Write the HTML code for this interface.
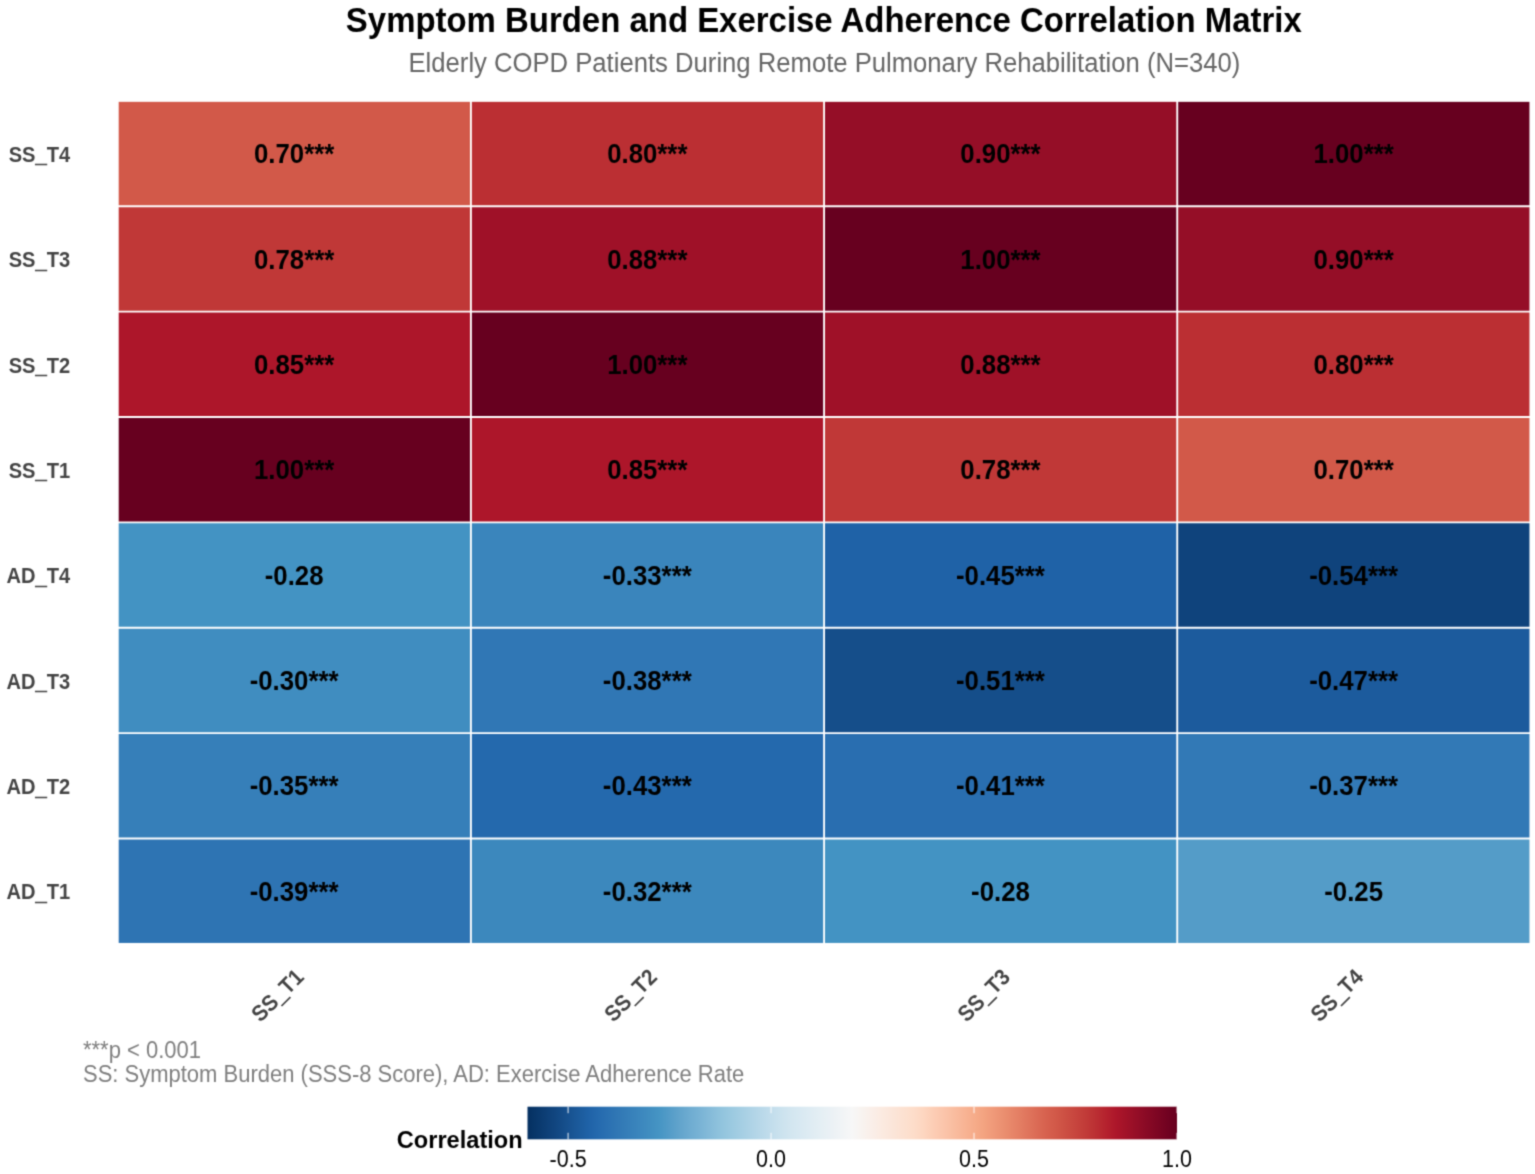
<!DOCTYPE html>
<html lang="en"><head><meta charset="utf-8"><title>Symptom Burden and Exercise Adherence Correlation Matrix</title>
<style>
html,body{margin:0;padding:0;background:#fff;}
body{width:1535px;height:1174px;overflow:hidden;}
svg{display:block;font-family:"Liberation Sans",Arial,Helvetica,sans-serif;}
.b{font-weight:700;}
</style></head><body>
<svg width="1535" height="1174" viewBox="0 0 1535 1174">
<rect x="-10" y="-10" width="1555" height="1194" fill="#ffffff"/>
<defs><linearGradient id="g" x1="0" x2="1" y1="0" y2="0"><stop offset="0.0000" stop-color="#053061"/><stop offset="0.0156" stop-color="#09386c"/><stop offset="0.0312" stop-color="#0e4078"/><stop offset="0.0469" stop-color="#124883"/><stop offset="0.0625" stop-color="#17518f"/><stop offset="0.0781" stop-color="#1b5a9b"/><stop offset="0.0938" stop-color="#1f62a7"/><stop offset="0.1094" stop-color="#256aae"/><stop offset="0.1250" stop-color="#2b71b2"/><stop offset="0.1406" stop-color="#3178b5"/><stop offset="0.1562" stop-color="#367fb9"/><stop offset="0.1719" stop-color="#3b86bd"/><stop offset="0.1875" stop-color="#408dc0"/><stop offset="0.2031" stop-color="#4695c4"/><stop offset="0.2188" stop-color="#549cc8"/><stop offset="0.2344" stop-color="#62a4cc"/><stop offset="0.2500" stop-color="#6eacd1"/><stop offset="0.2656" stop-color="#79b3d5"/><stop offset="0.2812" stop-color="#85bbd9"/><stop offset="0.2969" stop-color="#90c3dd"/><stop offset="0.3125" stop-color="#9ac9e0"/><stop offset="0.3281" stop-color="#a4cee3"/><stop offset="0.3438" stop-color="#aed3e6"/><stop offset="0.3594" stop-color="#b8d8e9"/><stop offset="0.3750" stop-color="#c2ddec"/><stop offset="0.3906" stop-color="#cbe2ee"/><stop offset="0.4062" stop-color="#d3e6f0"/><stop offset="0.4219" stop-color="#d9e9f2"/><stop offset="0.4375" stop-color="#dfecf3"/><stop offset="0.4531" stop-color="#e5eff4"/><stop offset="0.4688" stop-color="#ebf1f5"/><stop offset="0.4844" stop-color="#f1f4f6"/><stop offset="0.5000" stop-color="#f7f7f7"/><stop offset="0.5156" stop-color="#f8f3ef"/><stop offset="0.5312" stop-color="#faeee8"/><stop offset="0.5469" stop-color="#fbeae0"/><stop offset="0.5625" stop-color="#fbe5d9"/><stop offset="0.5781" stop-color="#fce1d1"/><stop offset="0.5938" stop-color="#fdddca"/><stop offset="0.6094" stop-color="#fdd6c0"/><stop offset="0.6250" stop-color="#fccdb5"/><stop offset="0.6406" stop-color="#fbc5ab"/><stop offset="0.6562" stop-color="#f9bda0"/><stop offset="0.6719" stop-color="#f8b495"/><stop offset="0.6875" stop-color="#f6ac8a"/><stop offset="0.7031" stop-color="#f3a380"/><stop offset="0.7188" stop-color="#ef9878"/><stop offset="0.7344" stop-color="#ea8e6f"/><stop offset="0.7500" stop-color="#e68367"/><stop offset="0.7656" stop-color="#e1785f"/><stop offset="0.7812" stop-color="#dc6d57"/><stop offset="0.7969" stop-color="#d7624f"/><stop offset="0.8125" stop-color="#d25949"/><stop offset="0.8281" stop-color="#cc4f43"/><stop offset="0.8438" stop-color="#c7453e"/><stop offset="0.8594" stop-color="#c13b38"/><stop offset="0.8750" stop-color="#bb2f33"/><stop offset="0.8906" stop-color="#b5222e"/><stop offset="0.9062" stop-color="#ad162a"/><stop offset="0.9219" stop-color="#a11228"/><stop offset="0.9375" stop-color="#950e27"/><stop offset="0.9531" stop-color="#890a25"/><stop offset="0.9688" stop-color="#7e0623"/><stop offset="0.9844" stop-color="#720221"/><stop offset="1.0000" stop-color="#67001f"/></linearGradient><filter id="soft" x="0" y="0" width="100%" height="100%" filterUnits="objectBoundingBox" color-interpolation-filters="sRGB"><feConvolveMatrix order="3" kernelMatrix="0.03240 0.11520 0.03240 0.11520 0.40960 0.11520 0.03240 0.11520 0.03240" edgeMode="duplicate" preserveAlpha="true"/></filter></defs>
<g filter="url(#soft)">
<rect x="-20" y="-20" width="1575" height="1214" fill="#ffffff"/>
<text transform="translate(823.80 32.30) scale(1 1.050)" class="b" font-size="32.95" text-anchor="middle" fill="#000">Symptom Burden and Exercise Adherence Correlation Matrix</text>
<text transform="translate(824.40 71.80) scale(1 1.050)" font-size="25.66" text-anchor="middle" fill="#666666">Elderly COPD Patients During Remote Pulmonary Rehabilitation (N=340)</text>
<g>
<rect x="117.75" y="100.90" width="353.16" height="105.38" fill="#d25949"/>
<rect x="470.91" y="100.90" width="353.16" height="105.38" fill="#bb2f33"/>
<rect x="824.08" y="100.90" width="353.16" height="105.38" fill="#950e27"/>
<rect x="1177.24" y="100.90" width="353.16" height="105.38" fill="#67001f"/>
<rect x="117.75" y="206.28" width="353.16" height="105.38" fill="#c03837"/>
<rect x="470.91" y="206.28" width="353.16" height="105.38" fill="#9f1128"/>
<rect x="824.08" y="206.28" width="353.16" height="105.38" fill="#67001f"/>
<rect x="1177.24" y="206.28" width="353.16" height="105.38" fill="#950e27"/>
<rect x="117.75" y="311.65" width="353.16" height="105.38" fill="#ad162a"/>
<rect x="470.91" y="311.65" width="353.16" height="105.38" fill="#67001f"/>
<rect x="824.08" y="311.65" width="353.16" height="105.38" fill="#9f1128"/>
<rect x="1177.24" y="311.65" width="353.16" height="105.38" fill="#bb2f33"/>
<rect x="117.75" y="417.02" width="353.16" height="105.38" fill="#67001f"/>
<rect x="470.91" y="417.02" width="353.16" height="105.38" fill="#ad162a"/>
<rect x="824.08" y="417.02" width="353.16" height="105.38" fill="#c03837"/>
<rect x="1177.24" y="417.02" width="353.16" height="105.38" fill="#d25949"/>
<rect x="117.75" y="522.40" width="353.16" height="105.38" fill="#4393c3"/>
<rect x="470.91" y="522.40" width="353.16" height="105.38" fill="#3a85bc"/>
<rect x="824.08" y="522.40" width="353.16" height="105.38" fill="#1f62a7"/>
<rect x="1177.24" y="522.40" width="353.16" height="105.38" fill="#0f437c"/>
<rect x="117.75" y="627.77" width="353.16" height="105.38" fill="#408dc0"/>
<rect x="470.91" y="627.77" width="353.16" height="105.38" fill="#3077b5"/>
<rect x="824.08" y="627.77" width="353.16" height="105.38" fill="#154e8a"/>
<rect x="1177.24" y="627.77" width="353.16" height="105.38" fill="#1c5b9d"/>
<rect x="117.75" y="733.15" width="353.16" height="105.38" fill="#367fb9"/>
<rect x="470.91" y="733.15" width="353.16" height="105.38" fill="#2469ad"/>
<rect x="824.08" y="733.15" width="353.16" height="105.38" fill="#296eb0"/>
<rect x="1177.24" y="733.15" width="353.16" height="105.38" fill="#3279b6"/>
<rect x="117.75" y="838.52" width="353.16" height="105.38" fill="#2e74b3"/>
<rect x="470.91" y="838.52" width="353.16" height="105.38" fill="#3c88bd"/>
<rect x="824.08" y="838.52" width="353.16" height="105.38" fill="#4393c3"/>
<rect x="1177.24" y="838.52" width="353.16" height="105.38" fill="#549cc8"/>
</g>
<g stroke="#ffffff" stroke-width="1.90" stroke-opacity="1.00" fill="none">
<rect x="117.75" y="100.90" width="1412.65" height="843.00" stroke="#fff" stroke-opacity="1"/>
<line x1="470.91" y1="100.90" x2="470.91" y2="943.90"/>
<line x1="824.08" y1="100.90" x2="824.08" y2="943.90"/>
<line x1="1177.24" y1="100.90" x2="1177.24" y2="943.90"/>
<line x1="117.75" y1="206.28" x2="1530.40" y2="206.28"/>
<line x1="117.75" y1="311.65" x2="1530.40" y2="311.65"/>
<line x1="117.75" y1="417.02" x2="1530.40" y2="417.02"/>
<line x1="117.75" y1="522.40" x2="1530.40" y2="522.40"/>
<line x1="117.75" y1="627.77" x2="1530.40" y2="627.77"/>
<line x1="117.75" y1="733.15" x2="1530.40" y2="733.15"/>
<line x1="117.75" y1="838.52" x2="1530.40" y2="838.52"/>
</g>
<g class="b" font-size="25.80" text-anchor="middle" fill="#000000">
<text transform="translate(294.13 163.19) scale(1 1.080)">0.70***</text>
<text transform="translate(647.29 163.19) scale(1 1.080)">0.80***</text>
<text transform="translate(1000.46 163.19) scale(1 1.080)">0.90***</text>
<text transform="translate(1353.62 163.19) scale(1 1.080)">1.00***</text>
<text transform="translate(294.13 268.56) scale(1 1.080)">0.78***</text>
<text transform="translate(647.29 268.56) scale(1 1.080)">0.88***</text>
<text transform="translate(1000.46 268.56) scale(1 1.080)">1.00***</text>
<text transform="translate(1353.62 268.56) scale(1 1.080)">0.90***</text>
<text transform="translate(294.13 373.94) scale(1 1.080)">0.85***</text>
<text transform="translate(647.29 373.94) scale(1 1.080)">1.00***</text>
<text transform="translate(1000.46 373.94) scale(1 1.080)">0.88***</text>
<text transform="translate(1353.62 373.94) scale(1 1.080)">0.80***</text>
<text transform="translate(294.13 479.31) scale(1 1.080)">1.00***</text>
<text transform="translate(647.29 479.31) scale(1 1.080)">0.85***</text>
<text transform="translate(1000.46 479.31) scale(1 1.080)">0.78***</text>
<text transform="translate(1353.62 479.31) scale(1 1.080)">0.70***</text>
<text transform="translate(294.13 584.69) scale(1 1.080)">-0.28</text>
<text transform="translate(647.29 584.69) scale(1 1.080)">-0.33***</text>
<text transform="translate(1000.46 584.69) scale(1 1.080)">-0.45***</text>
<text transform="translate(1353.62 584.69) scale(1 1.080)">-0.54***</text>
<text transform="translate(294.13 690.06) scale(1 1.080)">-0.30***</text>
<text transform="translate(647.29 690.06) scale(1 1.080)">-0.38***</text>
<text transform="translate(1000.46 690.06) scale(1 1.080)">-0.51***</text>
<text transform="translate(1353.62 690.06) scale(1 1.080)">-0.47***</text>
<text transform="translate(294.13 795.44) scale(1 1.080)">-0.35***</text>
<text transform="translate(647.29 795.44) scale(1 1.080)">-0.43***</text>
<text transform="translate(1000.46 795.44) scale(1 1.080)">-0.41***</text>
<text transform="translate(1353.62 795.44) scale(1 1.080)">-0.37***</text>
<text transform="translate(294.13 900.81) scale(1 1.080)">-0.39***</text>
<text transform="translate(647.29 900.81) scale(1 1.080)">-0.32***</text>
<text transform="translate(1000.46 900.81) scale(1 1.080)">-0.28</text>
<text transform="translate(1353.62 900.81) scale(1 1.080)">-0.25</text>
</g>
<g class="b" font-size="20.10" text-anchor="end" fill="#444444">
<text transform="translate(70.10 161.79) scale(1 1.080)">SS<tspan stroke="#444444" stroke-width="0.70" dy="0.50">_</tspan><tspan dy="-0.50">T4</tspan></text>
<text transform="translate(70.10 267.16) scale(1 1.080)">SS<tspan stroke="#444444" stroke-width="0.70" dy="0.50">_</tspan><tspan dy="-0.50">T3</tspan></text>
<text transform="translate(70.10 372.54) scale(1 1.080)">SS<tspan stroke="#444444" stroke-width="0.70" dy="0.50">_</tspan><tspan dy="-0.50">T2</tspan></text>
<text transform="translate(70.10 477.91) scale(1 1.080)">SS<tspan stroke="#444444" stroke-width="0.70" dy="0.50">_</tspan><tspan dy="-0.50">T1</tspan></text>
<text transform="translate(70.10 583.29) scale(1 1.080)">AD<tspan stroke="#444444" stroke-width="0.70" dy="0.50">_</tspan><tspan dy="-0.50">T4</tspan></text>
<text transform="translate(70.10 688.66) scale(1 1.080)">AD<tspan stroke="#444444" stroke-width="0.70" dy="0.50">_</tspan><tspan dy="-0.50">T3</tspan></text>
<text transform="translate(70.10 794.04) scale(1 1.080)">AD<tspan stroke="#444444" stroke-width="0.70" dy="0.50">_</tspan><tspan dy="-0.50">T2</tspan></text>
<text transform="translate(70.10 899.41) scale(1 1.080)">AD<tspan stroke="#444444" stroke-width="0.70" dy="0.50">_</tspan><tspan dy="-0.50">T1</tspan></text>
</g>
<g class="b" font-size="20.70" text-anchor="end" fill="#444444">
<text transform="translate(305.13 978.30) rotate(-45) scale(1 1.080)">SS<tspan stroke="#444444" stroke-width="0.70" dy="0.50">_</tspan><tspan dy="-0.50">T1</tspan></text>
<text transform="translate(658.29 978.30) rotate(-45) scale(1 1.080)">SS<tspan stroke="#444444" stroke-width="0.70" dy="0.50">_</tspan><tspan dy="-0.50">T2</tspan></text>
<text transform="translate(1011.46 978.30) rotate(-45) scale(1 1.080)">SS<tspan stroke="#444444" stroke-width="0.70" dy="0.50">_</tspan><tspan dy="-0.50">T3</tspan></text>
<text transform="translate(1364.62 978.30) rotate(-45) scale(1 1.080)">SS<tspan stroke="#444444" stroke-width="0.70" dy="0.50">_</tspan><tspan dy="-0.50">T4</tspan></text>
</g>
<g font-size="22.00" fill="#7f7f7f">
<text transform="translate(83.00 1057.80) scale(1 1.050)">***p &lt; 0.001</text>
<text transform="translate(83.00 1082.00) scale(1 1.050)">SS: Symptom Burden (SSS-8 Score), AD: Exercise Adherence Rate</text>
</g>
<text transform="translate(396.80 1148.30) scale(1 1.050)" class="b" font-size="23.60" fill="#000">Correlation</text>
<rect x="527.50" y="1106.70" width="649.50" height="32.60" fill="url(#g)"/>
<g stroke="#fff" stroke-width="1.00" stroke-opacity="0.90">
<line x1="568.09" y1="1106.70" x2="568.09" y2="1113.20"/>
<line x1="568.09" y1="1132.80" x2="568.09" y2="1139.30"/>
<line x1="771.06" y1="1106.70" x2="771.06" y2="1113.20"/>
<line x1="771.06" y1="1132.80" x2="771.06" y2="1139.30"/>
<line x1="974.03" y1="1106.70" x2="974.03" y2="1113.20"/>
<line x1="974.03" y1="1132.80" x2="974.03" y2="1139.30"/>
<line x1="1177.00" y1="1106.70" x2="1177.00" y2="1113.20"/>
<line x1="1177.00" y1="1132.80" x2="1177.00" y2="1139.30"/>
</g>
<g font-size="21.50" text-anchor="middle" fill="#000000">
<text transform="translate(568.09 1167.00) scale(1 1.080)">-0.5</text>
<text transform="translate(771.06 1167.00) scale(1 1.080)">0.0</text>
<text transform="translate(974.03 1167.00) scale(1 1.080)">0.5</text>
<text transform="translate(1177.00 1167.00) scale(1 1.080)">1.0</text>
</g>
</g>
</svg>
</body></html>
